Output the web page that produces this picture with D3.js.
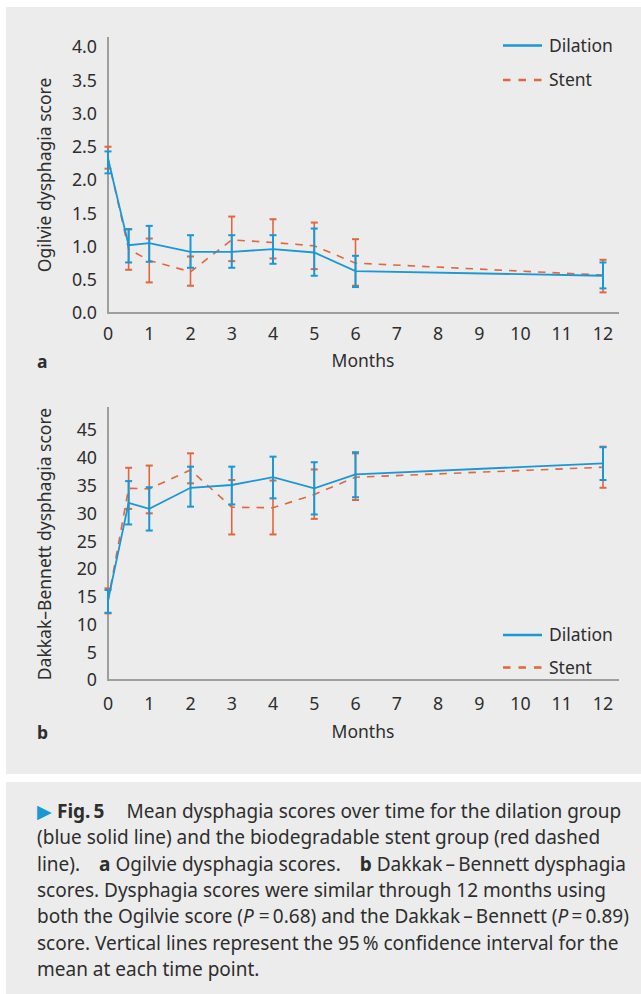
<!DOCTYPE html>
<html>
<head>
<meta charset="utf-8">
<script src="https://cdn.jsdelivr.net/npm/d3@7"></script>
<style>
  body { margin: 0; background: #fff; }
  svg text { font-family: "Noto Sans", sans-serif; fill: #2e2e2e; }
</style>
</head>
<body>
<div id="app"></div>
<script>
// data
var months = [0, 0.5, 1, 2, 3, 4, 5, 6, 12];
var xTicks = [0, 1, 2, 3, 4, 5, 6, 7, 8, 9, 10, 11, 12];

var ogilvieTicks = [0, 0.5, 1, 1.5, 2, 2.5, 3, 3.5, 4];
var ogilvieDilation     = [2.32, 1.02, 1.05, 0.92, 0.92, 0.96, 0.91, 0.63, 0.56];
var ogilvieDilationLow  = [2.10, 0.76, 0.77, 0.68, 0.68, 0.74, 0.56, 0.39, 0.37];
var ogilvieDilationHigh = [2.43, 1.26, 1.31, 1.17, 1.17, 1.17, 1.27, 0.86, 0.76];
var ogilvieStent     = [2.33, 0.96, 0.79, 0.62, 1.10, 1.06, 1.01, 0.75, 0.57];
var ogilvieStentLow  = [2.17, 0.65, 0.46, 0.41, 0.78, 0.82, 0.66, 0.41, 0.31];
var ogilvieStentHigh = [2.50, 1.26, 1.12, 0.85, 1.45, 1.41, 1.36, 1.11, 0.80];

var dakkakTicks = [0, 5, 10, 15, 20, 25, 30, 35, 40, 45];
var dakkakDilation     = [14.3, 31.9, 30.8, 34.6, 35.1, 36.5, 34.5, 37.0, 39.0];
var dakkakDilationLow  = [12.1, 28.0, 26.9, 31.2, 31.6, 32.7, 29.8, 32.9, 36.0];
var dakkakDilationHigh = [16.2, 35.8, 34.7, 38.4, 38.4, 40.2, 39.2, 41.0, 41.9];
var dakkakStent     = [14.2, 34.5, 34.4, 37.8, 31.1, 31.0, 33.4, 36.5, 38.3];
var dakkakStentLow  = [12.0, 30.8, 30.0, 35.4, 26.2, 26.2, 29.0, 32.4, 34.6];
var dakkakStentHigh = [16.5, 38.2, 38.6, 40.8, 36.0, 35.9, 37.9, 40.8, 42.0];

var seriesNames = ["Dilation", "Stent"];

var blue = "#1a97d5";
var orange = "#e2663e";
var panelGray = "#ebeceb";
var axisGray = "#9d9e9e";

var svg = d3.select("#app")
  .append("svg")
    .attr("width", 641)
    .attr("height", 994);

// background panels
svg.append("rect")
  .attr("x", 6).attr("y", 7)
  .attr("width", 635).attr("height", 767)
  .attr("fill", panelGray);
svg.append("rect")
  .attr("x", 6).attr("y", 782)
  .attr("width", 635).attr("height", 212)
  .attr("fill", panelGray);

function pack(mean, low, high) {
  return months.map(function(m, i) { return {m: m, v: mean[i], lo: low[i], hi: high[i]}; });
}

function drawPanel(opts) {
  var x = d3.scaleLinear().domain([0, 12]).range([108, 603]);
  var y = d3.scaleLinear().domain(opts.yDomain).range(opts.yRange);
  var g = svg.append("g").attr("class", "panel");

  // y tick labels
  g.selectAll(".ytick")
    .data(opts.yTicks)
    .join("text")
      .attr("class", "ytick")
      .attr("x", 97)
      .attr("y", function(d) { return y(d); })
      .attr("dy", "0.36em")
      .attr("text-anchor", "end")
      .style("font-size", "17.8px")
      .text(opts.yFormat);

  // x tick labels
  g.selectAll(".xtick")
    .data(xTicks)
    .join("text")
      .attr("class", "xtick")
      .attr("x", function(d) { return x(d); })
      .attr("y", opts.xTickY)
      .attr("text-anchor", "middle")
      .style("font-size", "17.8px")
      .text(function(d) { return d; });

  // axes
  g.append("line")
    .attr("x1", 108).attr("x2", 108)
    .attr("y1", opts.axisTop).attr("y2", y(0) + 1)
    .attr("stroke", axisGray).attr("stroke-width", 2);
  g.append("line")
    .attr("x1", 107).attr("x2", 619)
    .attr("y1", y(0)).attr("y2", y(0))
    .attr("stroke", axisGray).attr("stroke-width", 2);

  // titles
  g.append("text")
    .attr("transform", "translate(" + 51 + "," + opts.yTitleY + ")rotate(-90)")
    .attr("text-anchor", "middle")
    .style("font-size", "17.5px")
    .text(opts.yTitle);
  g.append("text")
    .attr("x", 363).attr("y", opts.monthsY)
    .attr("text-anchor", "middle")
    .style("font-size", "17.5px")
    .text("Months");
  g.append("text")
    .attr("x", 37).attr("y", opts.monthsY + 1)
    .style("font-size", "17.5px")
    .style("font-weight", "bold")
    .text(opts.letter);

  var line = d3.line()
    .x(function(d) { return x(d.m); })
    .y(function(d) { return y(d.v); });

  // stent first, dilation on top
  var series = [
    {name: "Stent", color: orange, dash: "7.5,7", width: 1.6, bar: 1.6, data: opts.stent},
    {name: "Dilation", color: blue, dash: null, width: 1.8, bar: 2, data: opts.dilation}
  ];

  series.forEach(function(s) {
    var sg = g.append("g").attr("class", "series " + s.name);
    sg.append("path")
      .datum(s.data)
      .attr("d", line)
      .attr("fill", "none")
      .attr("stroke", s.color)
      .attr("stroke-width", s.width)
      .attr("stroke-dasharray", s.dash);

    var bars = sg.selectAll(".err")
      .data(s.data)
      .join("g")
        .attr("class", "err");
    bars.append("line")
      .attr("x1", function(d) { return x(d.m); })
      .attr("x2", function(d) { return x(d.m); })
      .attr("y1", function(d) { return y(d.lo); })
      .attr("y2", function(d) { return y(d.hi); })
      .attr("stroke", s.color)
      .attr("stroke-width", s.bar);
    bars.selectAll(".cap")
      .data(function(d) { return [{m: d.m, c: d.lo}, {m: d.m, c: d.hi}]; })
      .join("line")
        .attr("class", "cap")
        .attr("x1", function(d) { return x(d.m) - 3.5; })
        .attr("x2", function(d) { return x(d.m) + 3.5; })
        .attr("y1", function(d) { return y(d.c); })
        .attr("y2", function(d) { return y(d.c); })
        .attr("stroke", s.color)
        .attr("stroke-width", 2);
  });

  // legend
  var leg = g.append("g").attr("class", "legend");
  seriesNames.forEach(function(name, i) {
    var ly = opts.legendY + i * opts.legendGap;
    leg.append("line")
      .attr("x1", 503).attr("x2", 542)
      .attr("y1", ly).attr("y2", ly)
      .attr("stroke", name === "Dilation" ? blue : orange)
      .attr("stroke-width", 2.6)
      .attr("stroke-dasharray", name === "Dilation" ? null : "7.5,8");
    leg.append("text")
      .attr("x", 549).attr("y", ly)
      .attr("dy", "0.36em")
      .style("font-size", "17.5px")
      .text(name);
  });
}

drawPanel({
  yDomain: [0, 4], yRange: [313, 47], yTicks: ogilvieTicks,
  yFormat: function(d) { return d.toFixed(1); },
  axisTop: 37, xTickY: 340, monthsY: 367, yTitleY: 175,
  yTitle: "Ogilvie dysphagia score", letter: "a",
  legendY: 45.5, legendGap: 34.5,
  dilation: pack(ogilvieDilation, ogilvieDilationLow, ogilvieDilationHigh),
  stent: pack(ogilvieStent, ogilvieStentLow, ogilvieStentHigh)
});

drawPanel({
  yDomain: [0, 45], yRange: [680, 430], yTicks: dakkakTicks,
  yFormat: function(d) { return d; },
  axisTop: 407, xTickY: 710, monthsY: 738, yTitleY: 544,
  yTitle: "Dakkak\u2013Bennett dysphagia score", letter: "b",
  legendY: 635, legendGap: 32.5,
  dilation: pack(dakkakDilation, dakkakDilationLow, dakkakDilationHigh),
  stent: pack(dakkakStent, dakkakStentLow, dakkakStentHigh)
});

// caption
var caption = svg.append("g").attr("class", "caption").style("font-size", "19px");
var captionLines = [
  [{t: "\u25B6\u00A0", fill: blue}, {t: "Fig.\u20095", b: true}, {t: "\u2003\u2009Mean dysphagia scores over time for the dilation group"}],
  [{t: "(blue solid line) and the biodegradable stent group (red dashed"}],
  [{t: "line).\u2003"}, {t: "a", b: true}, {t: " Ogilvie dysphagia scores.\u2003"}, {t: "b", b: true}, {t: " Dakkak\u2009\u2013\u2009Bennett dysphagia"}],
  [{t: "scores. Dysphagia scores were similar through 12 months using"}],
  [{t: "both the Ogilvie score ("}, {t: "P", i: true}, {t: "\u00A0=\u20090.68) and the Dakkak\u2009\u2013\u2009Bennett ("}, {t: "P", i: true}, {t: "\u2009=\u20090.89)"}],
  [{t: "score. Vertical lines represent the 95\u2009% confidence interval for the"}],
  [{t: "mean at each time point."}]
];

captionLines.forEach(function(parts, i) {
  var txt = caption.append("text")
    .attr("x", 37)
    .attr("y", 818 + i * 26.3);
  parts.forEach(function(p) {
    var ts = txt.append("tspan").text(p.t);
    if (p.b) ts.style("font-weight", "bold");
    if (p.i) ts.style("font-style", "italic");
    if (p.fill) ts.style("fill", p.fill);
  });
});
</script>
</body>
</html>
